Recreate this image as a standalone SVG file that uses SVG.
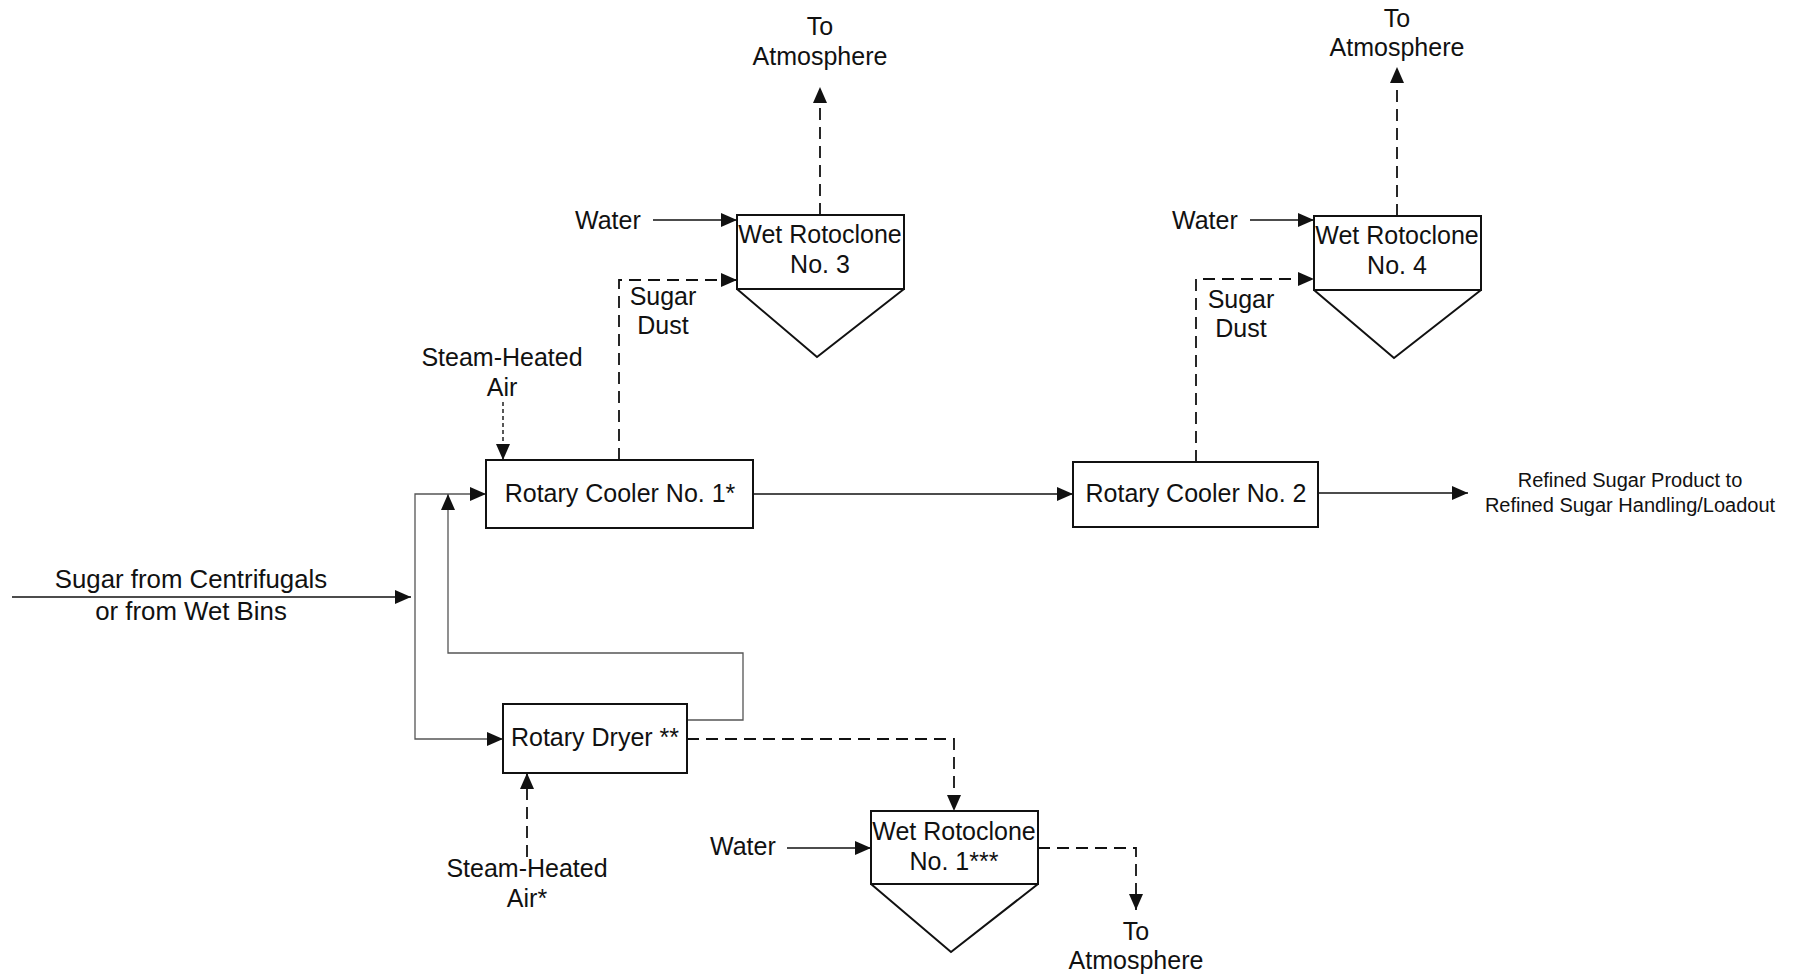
<svg xmlns="http://www.w3.org/2000/svg" width="1793" height="977" viewBox="0 0 1793 977">
<style>
text{font-family:"Liberation Sans",Arial,sans-serif;font-size:25px;fill:#111;}
.c{text-anchor:middle;}
.sm{font-size:20px;}
.big{font-size:25.8px;}
.box{fill:#fff;stroke:#111;stroke-width:2;}
.hop{fill:none;stroke:#111;stroke-width:2;}
.ln{fill:none;stroke:#111;stroke-width:1.5;}
.gr{fill:none;stroke:#555;stroke-width:1.3;}
.ds{fill:none;stroke:#111;stroke-width:1.8;stroke-dasharray:12 7;}
.dt{fill:none;stroke:#111;stroke-width:1.4;stroke-dasharray:4 3;}
</style>
<defs>
<marker id="ah" markerUnits="userSpaceOnUse" markerWidth="16" markerHeight="14" refX="16" refY="7" orient="auto">
<path d="M0,0 L16,7 L0,14 z" fill="#111"/>
</marker>
</defs>
<rect width="1793" height="977" fill="#fff"/>
<g id="connectors">
<path class="ln" d="M653,220 H737" marker-end="url(#ah)"/>
<path class="ds" d="M619,460 V280 H737" marker-end="url(#ah)"/>
<path class="ds" d="M820,215 V87" marker-end="url(#ah)"/>
<path class="ln" d="M1250,220 H1314" marker-end="url(#ah)"/>
<path class="ds" d="M1196,462 V279 H1314" marker-end="url(#ah)"/>
<path class="ds" d="M1397,216 V67" marker-end="url(#ah)"/>
<path class="dt" d="M503,402 V460" marker-end="url(#ah)"/>
<path class="ln" d="M12,597 H411" marker-end="url(#ah)"/>
<path class="gr" d="M415,597 V494 H486" marker-end="url(#ah)"/>
<path class="gr" d="M415,597 V739 H503" marker-end="url(#ah)"/>
<path class="gr" d="M687,720 H743 V653 H448 V494" marker-end="url(#ah)"/>
<path class="ds" d="M687,739 H954 V811" marker-end="url(#ah)"/>
<path class="ds" d="M527,857 V773" marker-end="url(#ah)"/>
<path class="ln" d="M787,848 H871" marker-end="url(#ah)"/>
<path class="ds" d="M1038,848 H1136 V910" marker-end="url(#ah)"/>
<path class="ln" d="M753,494 H1073" marker-end="url(#ah)"/>
<path class="ln" d="M1318,493 H1468" marker-end="url(#ah)"/>
</g>
<g id="wet-rotoclone-3">
<rect class="box" x="737" y="215" width="167" height="74"/>
<polyline class="hop" points="737,289 817,357 904,289"/>
<text class="c" x="820" y="243">Wet Rotoclone</text>
<text class="c" x="820" y="273">No. 3</text>
</g>
<g id="wet-rotoclone-4">
<rect class="box" x="1314" y="216" width="167" height="74"/>
<polyline class="hop" points="1314,290 1394,358 1481,290"/>
<text class="c" x="1397" y="244">Wet Rotoclone</text>
<text class="c" x="1397" y="274">No. 4</text>
</g>
<g id="wet-rotoclone-1">
<rect class="box" x="871" y="811" width="167" height="73"/>
<polyline class="hop" points="871,884 951,952 1038,884"/>
<text class="c" x="954" y="840">Wet Rotoclone</text>
<text class="c" x="954" y="870">No. 1***</text>
</g>
<g id="rotary-cooler-1">
<rect class="box" x="486" y="460" width="267" height="68"/>
<text class="c" x="620" y="502">Rotary Cooler No. 1*</text>
</g>
<g id="rotary-cooler-2">
<rect class="box" x="1073" y="462" width="245" height="65"/>
<text class="c" x="1196" y="502">Rotary Cooler No. 2</text>
</g>
<g id="rotary-dryer">
<rect class="box" x="503" y="704" width="184" height="69"/>
<text class="c" x="595" y="746">Rotary Dryer **</text>
</g>
<g id="labels">
<text class="c" x="820" y="35">To</text>
<text class="c" x="820" y="65">Atmosphere</text>
<text class="c" x="1397" y="27">To</text>
<text class="c" x="1397" y="56">Atmosphere</text>
<text class="c" x="1136" y="940">To</text>
<text class="c" x="1136" y="969">Atmosphere</text>
<text x="575" y="229">Water</text>
<text x="1172" y="229">Water</text>
<text x="710" y="855">Water</text>
<text class="c" x="663" y="305">Sugar</text>
<text class="c" x="663" y="334">Dust</text>
<text class="c" x="1241" y="308">Sugar</text>
<text class="c" x="1241" y="337">Dust</text>
<text class="c" x="502" y="366">Steam-Heated</text>
<text class="c" x="502" y="396">Air</text>
<text class="c" x="527" y="877">Steam-Heated</text>
<text class="c" x="527" y="907">Air*</text>
<text class="c big" x="191" y="588">Sugar from Centrifugals</text>
<text class="c big" x="191" y="620">or from Wet Bins</text>
<text class="c sm" x="1630" y="487">Refined Sugar Product to</text>
<text class="c sm" x="1630" y="512">Refined Sugar Handling/Loadout</text>
</g>
</svg>
